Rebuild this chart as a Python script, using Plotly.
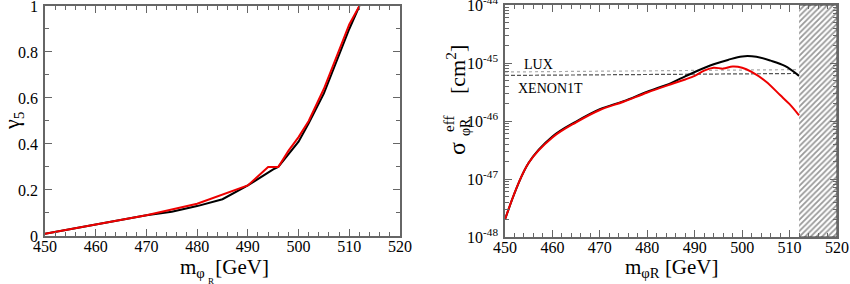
import plotly.graph_objects as go

# ---- left panel: gamma_5 vs m_phiR ----
m_black_L = [450, 460, 470, 475, 480, 485, 490, 495, 496, 500, 502, 505, 510, 512]
g5_black = [0.01, 0.05, 0.09, 0.105, 0.13, 0.16, 0.22, 0.29, 0.30, 0.41, 0.49, 0.62, 0.90, 1.0]
m_red_L = [450, 460, 470, 480, 485, 490, 494, 496, 498, 500, 502, 505, 510, 512]
g5_red = [0.01, 0.05, 0.09, 0.14, 0.18, 0.22, 0.30, 0.30, 0.37, 0.43, 0.50, 0.64, 0.92, 1.0]

# ---- right panel: sigma_eff vs m_phiR ----
m_black_R = [450, 455, 460, 465, 470, 475, 480, 485, 488, 490, 494, 497, 500, 503, 506, 509, 512]
sig_black = [2.0e-48, 1.9e-47, 5.4e-47, 9.8e-47, 1.6e-46, 2.2e-46, 3.2e-46, 4.5e-46, 5.9e-46,
             7.0e-46, 9.5e-46, 1.13e-45, 1.3e-45, 1.28e-45, 1.1e-45, 8.9e-46, 6.0e-46]
m_red_R = [450, 455, 460, 465, 470, 475, 480, 485, 488, 490, 492, 494, 496, 498, 500, 502, 505, 508, 510, 512]
sig_red = [2.0e-48, 1.9e-47, 5.2e-47, 9.5e-47, 1.55e-46, 2.15e-46, 3.1e-46, 4.3e-46, 5.2e-46,
           6.0e-46, 7.4e-46, 8.3e-46, 8.0e-46, 8.7e-46, 8.3e-46, 7.0e-46, 4.8e-46, 2.8e-46, 1.95e-46, 1.25e-46]
m_limits = [450, 512]
lux = [7.0e-46, 7.7e-46]
xenon = [6.1e-46, 6.6e-46]
excluded_x = [512, 520, 520, 512]
excluded_y = [1e-48, 1e-48, 1e-44, 1e-44]

x_ticks = [450, 460, 470, 480, 490, 500, 510, 520]
y_lin_ticks = [0, 0.2, 0.4, 0.6, 0.8, 1]
y_lin_text = ["0", "0.2", "0.4", "0.6", "0.8", "1"]
y_log_ticks = [1e-48, 1e-47, 1e-46, 1e-45, 1e-44]
y_log_text = ["10<sup>-48</sup>", "10<sup>-47</sup>", "10<sup>-46</sup>", "10<sup>-45</sup>", "10<sup>-44</sup>"]
y_log_minor = [k * 10.0 ** e for e in range(-48, -44) for k in range(2, 10)]

FONT = "Liberation Serif"
FRAME = "#666666"

# figure pixel geometry helpers (for title annotations)
L, R, T, B, W, H = 45, 13, 5, 47, 850, 284
def px(xp):
    return (xp - L) / (W - L - R)
def py(yp):
    return (H - B - yp) / (H - T - B)

fig = go.Figure()
fig.add_trace(go.Scatter(x=m_black_L, y=g5_black, mode="lines", line=dict(color="black", width=2),
                         xaxis="x", yaxis="y", showlegend=False))
fig.add_trace(go.Scatter(x=m_red_L, y=g5_red, mode="lines", line=dict(color="#ee0000", width=2),
                         xaxis="x", yaxis="y", showlegend=False))

fig.add_trace(go.Scatter(x=excluded_x, y=excluded_y, mode="lines", fill="toself",
                         fillcolor="white",
                         fillpattern=dict(shape="/", fgcolor="#333333", bgcolor="white", size=4, solidity=0.45),
                         line=dict(color="#333333", width=1), xaxis="x2", yaxis="y2", showlegend=False))
fig.add_trace(go.Scatter(x=m_limits, y=lux, mode="lines", line=dict(color="#aaaaaa", width=1.2, dash="dot"),
                         xaxis="x2", yaxis="y2", showlegend=False))
fig.add_trace(go.Scatter(x=m_limits, y=xenon, mode="lines", line=dict(color="#555555", width=1.2, dash="4px,2px"),
                         xaxis="x2", yaxis="y2", showlegend=False))
fig.add_trace(go.Scatter(x=m_black_R, y=sig_black, mode="lines", line=dict(color="black", width=2, shape="spline"),
                         xaxis="x2", yaxis="y2", showlegend=False))
fig.add_trace(go.Scatter(x=m_red_R, y=sig_red, mode="lines", line=dict(color="#ee0000", width=2, shape="spline"),
                         xaxis="x2", yaxis="y2", showlegend=False))

def axis_style():
    return dict(showgrid=False, zeroline=False, showline=True, linecolor=FRAME, linewidth=1.5,
                mirror="allticks", ticks="inside", ticklen=7, tickcolor=FRAME,
                ticklabeloverflow="allow",
                tickfont=dict(family=FONT, size=16, color="black"), automargin=False)

tfont = dict(family=FONT, color="black")

def title_ann(xp, yp, text, size, angle=0):
    return dict(x=px(xp), y=py(yp), xref="paper", yref="paper", text=text, showarrow=False,
                xanchor="center", yanchor="middle", textangle=angle, font=dict(size=size, **tfont))

fig.update_layout(
    width=W, height=H,
    margin=dict(l=L, r=R, t=T, b=B),
    font=dict(family=FONT, color="black"),
    paper_bgcolor="white", plot_bgcolor="white",
    xaxis=dict(domain=[0, 0.4482], range=[450, 520], tickvals=x_ticks, ticklabelstandoff=-5,
               minor=dict(dtick=2, ticks="inside", ticklen=4, tickcolor=FRAME),
               anchor="y", **axis_style()),
    yaxis=dict(domain=[0.0043, 0.9957], range=[0, 1], tickvals=y_lin_ticks, ticktext=y_lin_text,
               minor=dict(tickvals=[0.1, 0.3, 0.5, 0.7, 0.9], ticks="inside", ticklen=4, tickcolor=FRAME),
               anchor="x", ticklabelstandoff=2, **axis_style()),
    xaxis2=dict(domain=[0.5808, 1.0], range=[450, 520], tickvals=x_ticks, ticklabelstandoff=-5,
                minor=dict(dtick=2, ticks="inside", ticklen=4, tickcolor=FRAME),
                anchor="y2", **axis_style()),
    yaxis2=dict(domain=[0.0, 1.0], type="log", range=[-48, -44], tickvals=y_log_ticks, ticktext=y_log_text,
                minor=dict(tickvals=y_log_minor, ticks="inside", ticklen=4, tickcolor=FRAME, showgrid=False),
                anchor="x2", ticklabelstandoff=2, **axis_style()),
    annotations=[
        # right panel labels
        dict(x=457, y=-45.02, xref="x2", yref="y2", text="LUX", showarrow=False,
             font=dict(family=FONT, size=14, color="black")),
        dict(x=459.5, y=-45.44, xref="x2", yref="y2", text="XENON1T", showarrow=False,
             font=dict(family=FONT, size=14, color="black")),
        # left x title
        title_ann(224, 268, "m<sub>φ</sub>  [GeV]", 21),
        title_ann(211, 281, "R", 9),
        # left y title
        title_ann(13, 121, "γ<sub>5</sub>", 22, -90),
        # right x title
        title_ann(672, 268, "m<sub>φR</sub> [GeV]", 21),
        # right y title (stacked super/sub script)
        title_ann(457, 149, "σ", 24, -90),
        title_ann(449, 124, "eff", 15, -90),
        title_ann(465, 127, "φR", 14, -90),
        title_ann(456, 70, "[cm<sup>2</sup>]", 22, -90),
    ],
)

fig.write_html("out.html", config={"displayModeBar": False},
               post_script="document.body.style.margin='0';document.body.style.padding='0';")
